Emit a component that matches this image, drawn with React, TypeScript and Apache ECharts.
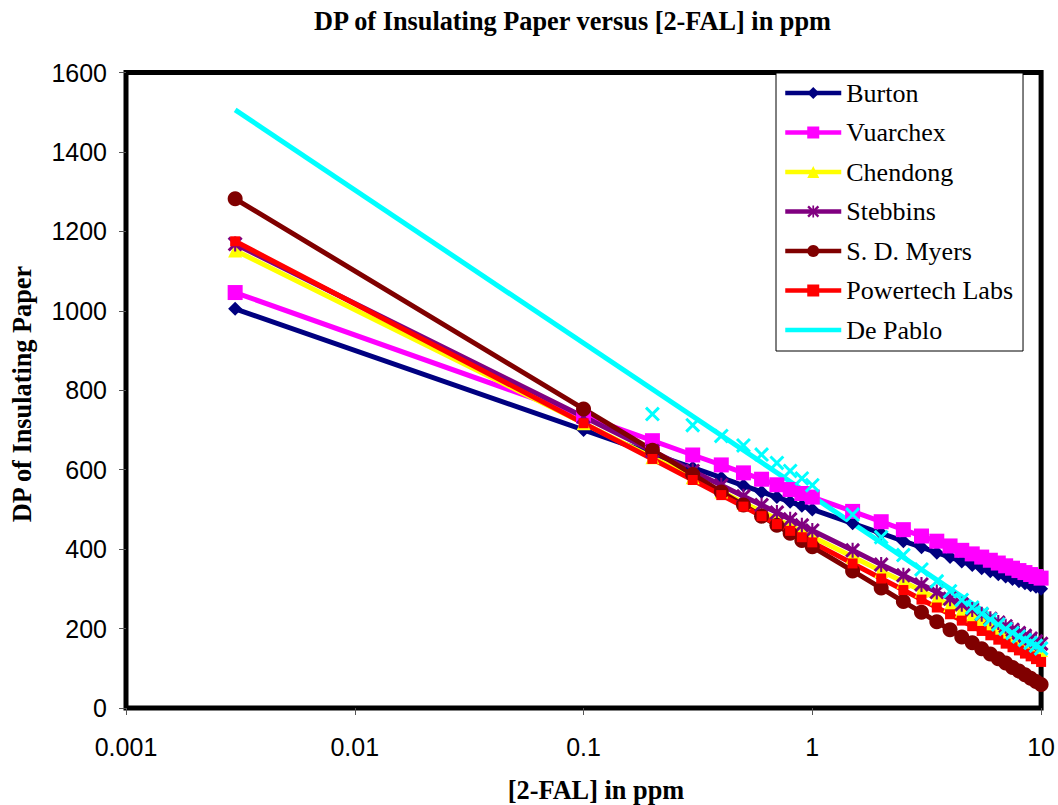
import React, { useEffect, useRef } from "react";
import * as echarts from "echarts";

const xValues = [0.003, 0.1, 0.2, 0.3, 0.4, 0.5, 0.6, 0.7, 0.8, 0.9, 1, 1.5, 2, 2.5, 3, 3.5, 4, 4.5, 5, 5.5, 6, 6.5, 7, 7.5, 8, 8.5, 9, 9.5, 10];

const burton = [1005, 700, 640, 605, 580, 560, 544, 531, 519, 509, 500, 465, 440, 420, 405, 391, 380, 369, 360, 352, 344, 337, 331, 325, 319, 314, 309, 305, 300];
const vuarchex = [1046, 735, 673, 637, 612, 592, 576, 562, 550, 540, 531, 495, 469, 449, 433, 420, 408, 397, 388, 380, 372, 365, 358, 352, 346, 341, 336, 331, 327];
const chendong = [1152, 717, 631, 581, 545, 517, 495, 476, 459, 445, 431, 381, 345, 318, 295, 276, 259, 245, 232, 220, 209, 199, 190, 181, 173, 166, 159, 152, 146];
const stebbins = [1168, 733, 647, 597, 561, 533, 511, 492, 475, 460, 447, 397, 361, 334, 311, 292, 275, 261, 248, 236, 225, 215, 206, 197, 189, 182, 175, 168, 162];
const sdMyers = [1282, 753, 649, 588, 544, 511, 483, 460, 440, 422, 406, 345, 302, 268, 241, 217, 197, 179, 164, 149, 136, 124, 113, 102, 93, 84, 75, 67, 59];
const powertech = [1175, 717, 627, 574, 536, 507, 483, 463, 446, 430, 417, 364, 326, 297, 273, 253, 236, 220, 206, 194, 183, 172, 162, 153, 145, 137, 130, 123, 116];

const dePabloX = [0.2, 0.3, 0.4, 0.5, 0.6, 0.7, 0.8, 0.9, 1, 1.5, 2, 2.5, 3, 3.5, 4, 4.5, 5, 5.5, 6, 6.5, 7, 7.5, 8, 8.5, 9, 9.5, 10];
const dePablo = [740, 712, 685, 661, 638, 617, 597, 578, 561, 487, 430, 385, 349, 319, 294, 272, 253, 237, 223, 210, 199, 189, 180, 171, 164, 157, 150];
const dePabloTrendX = [0.003, 10];
const dePabloTrend = [1506, 147];

const seriesNames = ["Burton", "Vuarchex", "Chendong", "Stebbins", "S. D. Myers", "Powertech Labs", "De Pablo"];
const yTicks = { min: 0, max: 1600, interval: 200 };
const xRange = { min: 0.001, max: 10 };

const SERIF = '"Liberation Serif", "Times New Roman", serif';
const SANS = '"Liberation Sans", Arial, sans-serif';

const STAR = "path://M43,0 L57,0 L57,100 L43,100 Z M0,14 L14,0 L100,86 L86,100 Z M86,0 L100,14 L14,100 L0,86 Z";
const CROSS = "path://M0,14 L14,0 L100,86 L86,100 Z M86,0 L100,14 L14,100 L0,86 Z";

function lineSeries(name: string, xs: number[], ys: number[], color: string, symbol: string, size: number) {
  return {
    name,
    type: "line",
    data: xs.map((x, i) => [x, ys[i]]),
    symbol,
    symbolSize: size,
    showSymbol: symbol !== "none",
    lineStyle: { color, width: 5 },
    itemStyle: { color, borderWidth: 0 },
    emphasis: { disabled: true },
  };
}

export default function App() {
  const ref = useRef<HTMLDivElement>(null);
  useEffect(() => {
    document.body.style.margin = "0";
    const chart = echarts.init(ref.current!, null, { renderer: "svg" });
    const option: any = {
      animation: false,
      backgroundColor: "#fff",
      grid: {
        show: true,
        left: 126,
        top: 72.5,
        width: 917,
        height: 635.5,
        borderColor: "#000",
        borderWidth: 5,
        backgroundColor: "transparent",
      },
      xAxis: {
        type: "log",
        logBase: 10,
        min: xRange.min,
        max: xRange.max,
        axisLine: { show: false },
        axisTick: { show: true, length: 7, lineStyle: { color: "#555", width: 1 } },
        splitLine: { show: false },
        minorTick: { show: false },
        axisLabel: {
          fontSize: 25,
          fontFamily: SANS,
          color: "#000",
          margin: 26,
          formatter: (v: number) => String(parseFloat(Number(v).toPrecision(4))),
        },
      },
      yAxis: {
        type: "value",
        min: yTicks.min,
        max: yTicks.max,
        interval: yTicks.interval,
        axisLine: { show: false },
        axisTick: { show: true, length: 7, lineStyle: { color: "#555", width: 1 } },
        splitLine: { show: false },
        axisLabel: {
          fontSize: 25,
          fontFamily: SANS,
          color: "#000",
          margin: 19,
          formatter: (v: number) => String(v),
        },
      },
      legend: {
        data: seriesNames.map((n) => (n === "De Pablo" ? { name: n, itemStyle: { opacity: 0 } } : n)),
        orient: "vertical",
        left: 776,
        top: 73,
        padding: [6.5, 10, 7.5, 7],
        itemWidth: 56,
        itemHeight: 15,
        itemGap: 12.5,
        backgroundColor: "#fff",
        borderColor: "#000",
        borderWidth: 1,
        selectedMode: false,
        lineStyle: { width: 4.5 },
        textStyle: { fontSize: 26, fontFamily: SERIF, color: "#000", lineHeight: 27 },
      },
      graphic: [
        {
          type: "text",
          x: 572.5,
          y: 21,
          style: {
            text: "DP of Insulating Paper versus [2-FAL] in ppm",
            fontSize: 26.3,
            fontWeight: "bold",
            fontFamily: SERIF,
            fill: "#000",
            align: "center",
            verticalAlign: "middle",
          },
        },
        {
          type: "text",
          x: 596,
          y: 790,
          style: {
            text: "[2-FAL] in ppm",
            fontSize: 26.3,
            fontWeight: "bold",
            fontFamily: SERIF,
            fill: "#000",
            align: "center",
            verticalAlign: "middle",
          },
        },
        {
          type: "text",
          x: 22,
          y: 394,
          rotation: Math.PI / 2,
          style: {
            text: "DP of Insulating Paper",
            fontSize: 26.3,
            fontWeight: "bold",
            fontFamily: SERIF,
            fill: "#000",
            align: "center",
            verticalAlign: "middle",
          },
        },
      ],
      series: [
        lineSeries("Burton", xValues, burton, "#000080", "diamond", 14),
        lineSeries("Vuarchex", xValues, vuarchex, "#FF00FF", "rect", 15),
        lineSeries("Chendong", xValues, chendong, "#FFFF00", "triangle", 14),
        lineSeries("Stebbins", xValues, stebbins, "#800080", STAR, 15),
        lineSeries("S. D. Myers", xValues, sdMyers, "#800000", "circle", 15),
        lineSeries("Powertech Labs", xValues, powertech, "#FF0000", "rect", 10),
        {
          name: "De Pablo data",
          type: "line",
          data: dePabloX.map((x, i) => [x, dePablo[i]]),
          symbol: CROSS,
          symbolSize: 15,
          lineStyle: { width: 0, opacity: 0 },
          itemStyle: { color: "#00FFFF", borderWidth: 0 },
          emphasis: { disabled: true },
        },
        lineSeries("De Pablo", dePabloTrendX, dePabloTrend, "#00FFFF", "none", 0),
      ],
    };
    chart.setOption(option);
    return () => chart.dispose();
  }, []);
  return <div ref={ref} style={{ width: 1058, height: 805 }} />;
}
